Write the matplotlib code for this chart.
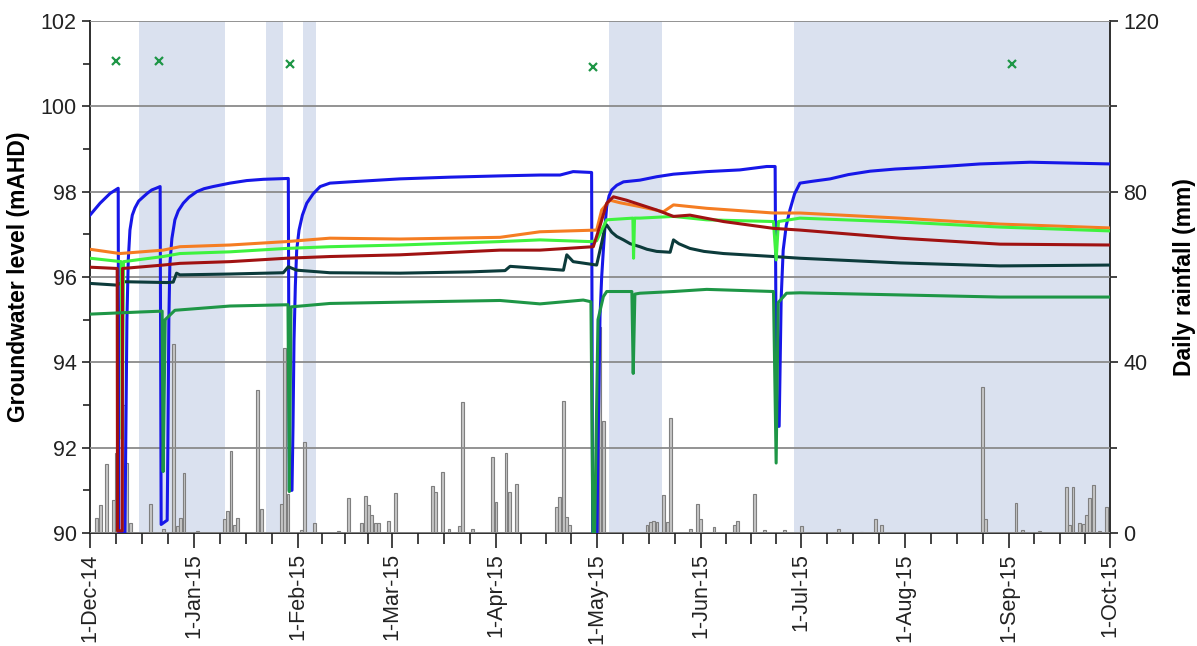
import matplotlib
matplotlib.use('Agg')
import matplotlib.pyplot as plt
import matplotlib.dates as mdates
from matplotlib.ticker import MultipleLocator, FixedLocator, FuncFormatter
from datetime import datetime

plt.rcParams['font.family'] = ['Liberation Sans', 'DejaVu Sans']

# all x values are days after 1-Dec-14
start = datetime(2014, 12, 1)
end = datetime(2015, 10, 1)

# shaded periods (start day, end day)
shade_start = [14.6, 52.5, 63.5, 154.7, 209.8]
shade_end = [40.2, 57.5, 67.4, 170.5, 304]

# daily rainfall (mm)
rain_day = [2, 3, 5, 7, 8, 10, 11, 12, 18, 22, 25, 26, 27, 28, 32, 40, 41, 42, 43, 44,
            50, 51, 57, 58, 59, 63, 64, 67, 74, 77, 81, 82, 83, 84, 85, 86, 89, 91,
            102, 103, 105, 107, 110, 111, 114, 120, 121, 124, 125, 127, 139, 140, 141,
            142, 143, 151, 152, 153, 166, 167, 168, 169, 171, 172, 173, 179, 181, 182,
            186, 192, 193, 198, 201, 207, 212, 223, 230, 234, 236, 266, 267, 276, 278,
            283, 291, 292, 293, 295, 296, 297, 298, 299, 301, 303]
rain_mm = [3.5, 6.6, 16.2, 7.7, 18.8, 30.0, 16.4, 2.4, 6.8, 0.9, 44.3, 1.7, 3.5, 14.1, 0.5,
           3.3, 5.2, 19.3, 1.9, 3.5, 33.5, 5.6, 6.7, 43.4, 9.1, 0.7, 21.4, 2.3, 0.5, 8.1,
           2.3, 8.7, 6.6, 4.2, 2.3, 2.3, 2.9, 9.3, 11.0, 9.5, 14.2, 0.9, 1.6, 30.6, 0.9,
           17.7, 7.3, 18.7, 9.7, 11.5, 6.2, 8.4, 31.0, 3.8, 1.9, 14.8, 48.3, 26.3, 1.9,
           2.5, 2.8, 2.5, 8.8, 2.5, 26.9, 0.9, 6.8, 3.4, 1.3, 1.9, 2.8, 9.1, 0.7, 0.7,
           1.7, 0.9, 0.3, 3.2, 1.9, 34.2, 3.2, 7.1, 0.7, 0.5, 10.7, 1.9, 10.7, 2.4, 2.2,
           4.2, 8.1, 11.2, 0.5, 6.2]

# groundwater levels (mAHD)
blue_day = [0, 3, 6, 8.4, 8.6, 10.4, 10.7, 11.0, 11.4, 11.9, 12.6, 13.4, 14.5, 15.9,
            17.2, 18.4, 19.7, 20.9, 21.2, 23.0, 23.2, 23.5, 23.8, 24.4, 25.3, 26.3, 27.8,
            29.5, 31.8, 34, 36.7, 41.7, 46.7, 51.7, 59.1, 59.4, 60.2, 60.5, 60.8, 61.2,
            61.6, 62.3, 63.3, 64.6, 66.5, 68.6, 71.5, 77.5, 92.4, 107.3, 122.2, 134.1,
            140.1, 144, 149.5, 149.8, 151.1, 151.4, 151.7, 152, 152.5, 153, 153.5, 154,
            154.7, 155.5, 157, 159, 163.9, 168.9, 173.9, 183.8, 193.7, 201.7, 204.2,
            204.6, 205.4, 205.7, 206, 206.6, 207.5, 208.6, 210, 211.6, 215, 220.6, 226,
            232.5, 240, 247.4, 256, 265.3, 280.2, 292.1, 304]
blue_lvl = [97.45, 97.73, 97.96, 98.08, 90.0, 90.0, 92.5, 95.0, 96.4, 97.1, 97.45, 97.62,
            97.78, 97.88, 97.97, 98.04, 98.08, 98.12, 90.2, 90.3, 92.0, 95.0, 96.3, 96.9,
            97.34, 97.55, 97.73, 97.87, 98.0, 98.07, 98.12, 98.2, 98.26, 98.29, 98.31,
            91.0, 91.0, 92.5, 94.5, 95.8, 96.63, 97.1, 97.45, 97.73, 97.95, 98.12, 98.2,
            98.23, 98.3, 98.34, 98.37, 98.39, 98.39, 98.47, 98.45, 90.0, 90.0, 92.0, 93.5,
            95.07, 96.0, 96.63, 97.2, 97.65, 97.9, 98.04, 98.15, 98.23, 98.27, 98.35,
            98.41, 98.47, 98.51, 98.59, 98.59, 92.5, 92.5, 94.0, 95.5, 96.63, 97.2, 97.57,
            97.95, 98.2, 98.24, 98.3, 98.4, 98.48, 98.53, 98.56, 98.6, 98.65, 98.69,
            98.67, 98.65]

teal_day = [0, 8, 9.9, 22.9, 24.8, 25.8, 26.8, 41.7, 57.6, 59.1, 61.6, 71.5, 92.4,
            113.3, 123.7, 125.2, 134.1, 141.1, 142.1, 144, 151, 152.5, 153.5, 154, 155.5,
            157, 159, 161, 163.9, 166, 168.9, 172.9, 173.9, 175.5, 178.8, 183, 188.8,
            203.7, 211.6, 241.4, 271.2, 304]
teal_lvl = [95.85, 95.81, 95.89, 95.87, 95.88, 96.09, 96.05, 96.07, 96.1, 96.24, 96.16,
            96.1, 96.09, 96.12, 96.15, 96.25, 96.2, 96.16, 96.52, 96.36, 96.28, 96.8,
            97.18, 97.22, 97.05, 96.95, 96.87, 96.78, 96.71, 96.65, 96.6, 96.58, 96.87,
            96.78, 96.67, 96.6, 96.55, 96.48, 96.44, 96.33, 96.26, 96.28]

orange_day = [0, 8.9, 21.8, 26.8, 41.7, 58.6, 71.5, 92.4, 122.2, 134.1, 151, 152.5, 155,
              158, 163.9, 170.9, 173.9, 183.8, 203.7, 211.6, 241.4, 271.2, 304]
orange_lvl = [96.65, 96.55, 96.63, 96.71, 96.75, 96.83, 96.91, 96.89, 96.93, 97.06, 97.1,
              97.57, 97.8, 97.74, 97.65, 97.53, 97.69, 97.61, 97.5, 97.5, 97.38, 97.24,
              97.15]

lime_day = [0, 9.3, 9.6, 10.0, 21.8, 26.8, 41.7, 58.6, 71.5, 92.4, 122.2, 134.1, 149,
            151, 154, 161.8, 162.0, 162.3, 163.9, 173.9, 183.8, 203.7, 204.5, 205.2,
            211.6, 241.4, 271.2, 304]
lime_lvl = [96.44, 96.36, 92.2, 96.36, 96.48, 96.55, 96.59, 96.67, 96.71, 96.75, 96.83,
            96.87, 96.83, 96.85, 97.34, 97.38, 96.44, 97.38, 97.38, 97.42, 97.34, 97.3,
            96.4, 97.3, 97.38, 97.29, 97.17, 97.08]

red_day = [0, 8.1, 8.2, 9.6, 9.7, 21.8, 26.8, 41.7, 58.6, 71.5, 92.4, 122.2, 134.1, 150,
           152, 154, 156, 159.9, 168.9, 173.9, 178.8, 188.8, 203.7, 211.6, 241.4, 271.2,
           304]
red_lvl = [96.23, 96.2, 90.05, 90.05, 96.2, 96.28, 96.32, 96.36, 96.44, 96.48, 96.52,
           96.63, 96.63, 96.71, 97.2, 97.73, 97.88, 97.8, 97.57, 97.42, 97.45, 97.3,
           97.14, 97.1, 96.91, 96.77, 96.75]

green_day = [0, 14.9, 21.5, 21.8, 22.4, 25.3, 41.7, 59.0, 59.4, 59.9, 71.5, 92.4, 122.2,
             134.1, 147, 149.3, 149.9, 150.4, 151.4, 153, 154, 161.5, 161.9, 162.4,
             163.9, 173.9, 183.8, 203.7, 204.5, 205.1, 207.6, 211.6, 241.4, 271.2, 304]
green_lvl = [95.13, 95.18, 95.2, 91.44, 95.0, 95.22, 95.32, 95.35, 90.97, 95.3, 95.38,
             95.41, 95.45, 95.37, 95.46, 95.42, 90.0, 90.0, 95.0, 95.54, 95.66, 95.66,
             93.74, 95.6, 95.62, 95.66, 95.71, 95.66, 91.64, 95.4, 95.62, 95.63, 95.58,
             95.53, 95.53]

# field visits
visit_day = [7.7, 20.6, 59.6, 149.9, 274.8]
visit_lvl = [101.06, 101.06, 100.99, 100.92, 100.99]

t0 = mdates.date2num(start)


def to_x(days):
    return [t0 + d for d in days]


fig = plt.figure(figsize=(11.97, 6.46), dpi=100)
ax = fig.add_axes([0.0752, 0.1749, 0.8521, 0.7926])
ax2 = ax.twinx()
ax.set_zorder(ax2.get_zorder() + 1)
ax.patch.set_visible(False)

for s, e in zip(shade_start, shade_end):
    ax2.axvspan(t0 + s, t0 + e, color='#dae1ef', lw=0, zorder=0)

ax2.bar(to_x(rain_day), rain_mm, width=0.85, color='#c6c6c6', edgecolor='#7f7f7f',
        linewidth=0.8, zorder=2)

ax.plot(to_x(blue_day), blue_lvl, color='#1717e8', lw=2.2, zorder=3)
ax.plot(to_x(teal_day), teal_lvl, color='#0c3b3b', lw=2.2, zorder=3)
ax.plot(to_x(orange_day), orange_lvl, color='#f57d22', lw=2.2, zorder=3)
ax.plot(to_x(lime_day), lime_lvl, color='#3ff23f', lw=2.2, zorder=3)
ax.plot(to_x(red_day), red_lvl, color='#a01212', lw=2.2, zorder=3)
ax.plot(to_x(green_day), green_lvl, color='#1e9646', lw=2.2, zorder=3)
ax.plot(to_x(visit_day), visit_lvl, ls='none', marker='x', color='#1e9646', ms=6,
        mew=1.6, zorder=4)

ax.set_xlim(t0, mdates.date2num(end))
ax.set_ylim(90, 102)
ax2.set_ylim(0, 120)

ax.yaxis.set_major_locator(MultipleLocator(2))
ax.yaxis.set_minor_locator(MultipleLocator(1))
ax2.yaxis.set_major_locator(MultipleLocator(40))
ax2.yaxis.set_minor_locator(MultipleLocator(20))

months = [datetime(2014 + (11 + i) // 12, (11 + i) % 12 + 1, 1) for i in range(11)]
mnum = [mdates.date2num(m) for m in months]
minor = []
for a, b in zip(mnum[:-1], mnum[1:]):
    minor += [a + (b - a) * k / 4 for k in (1, 2, 3)]
ax.xaxis.set_major_locator(FixedLocator(mnum))
ax.xaxis.set_minor_locator(FixedLocator(minor))
ax.xaxis.set_major_formatter(FuncFormatter(
    lambda v, p: '1-' + mdates.num2date(v).strftime('%b-%y')))
ax.tick_params(axis='x', which='major', length=11, width=1.2, labelsize=15.5,
               labelrotation=90, colors='#222222')
ax.tick_params(axis='x', which='minor', length=8, width=1.2, colors='#222222')
ax.tick_params(axis='y', which='major', length=6, width=1.2, labelsize=15.5,
               colors='#222222')
ax.tick_params(axis='y', which='minor', length=5, width=1.2, colors='#222222')
ax2.tick_params(axis='y', which='major', length=6, width=1.2, labelsize=15.5,
                colors='#222222')
ax2.tick_params(axis='y', which='minor', length=5, width=1.2, colors='#222222')

ax.grid(axis='y', which='major', color='#8a8a8a', lw=1.3)
ax.set_axisbelow(False)

for a in (ax, ax2):
    a.spines['top'].set_visible(False)
    for sp in ('left', 'right', 'bottom'):
        a.spines[sp].set_color('#333333')
        a.spines[sp].set_linewidth(1.3)

ax.set_ylabel('Groundwater level (mAHD)', fontsize=16.5, fontweight='bold', labelpad=8)
ax2.set_ylabel('Daily rainfall (mm)', fontsize=16.5, fontweight='bold', labelpad=10)

fig.savefig('out.png', dpi=100)
